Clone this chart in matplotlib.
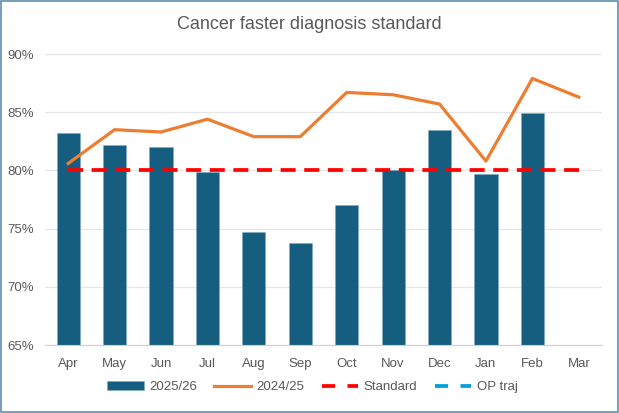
import matplotlib.pyplot as plt
from matplotlib.patches import Rectangle
import numpy as np

months = ["Apr", "May", "Jun", "Jul", "Aug", "Sep", "Oct", "Nov", "Dec", "Jan", "Feb", "Mar"]
fy2526 = [83.2, 82.2, 82.0, 79.9, 74.7, 73.8, 77.0, 80.0, 83.5, 79.7, 84.9]
fy2425 = [80.6, 83.5, 83.3, 84.4, 82.9, 82.9, 86.7, 86.5, 85.7, 80.8, 87.9, 86.3]
standard = [80] * 12
op_traj = []

plt.rcParams["font.family"] = ["Liberation Sans", "DejaVu Sans"]
grey = "#595959"

fig = plt.figure(figsize=(6.19, 4.13), dpi=100)
ax = fig.add_axes([0.0727, 0.1646, 0.8998, 0.7046])

x = np.arange(len(months))
bars = ax.bar(x[:len(fy2526)], fy2526, width=0.5, color="#165E80", edgecolor="#7FA9C0",
              linewidth=0.4, label="2025/26", zorder=2)
l1, = ax.plot(x, fy2425, color="#ED7D31", lw=2.3, label="2024/25", zorder=3)
l2, = ax.plot(x, standard, color="#FF0000", lw=2.7, ls=(0, (4, 2.3)), label="Standard", zorder=4)
l3, = ax.plot(x[:len(op_traj)], op_traj, color="#00A0DC", lw=2.7, ls=(0, (4, 2.3)), label="OP traj", zorder=4)

ax.set_ylim(65, 90)
ax.set_xlim(-0.5, len(months) - 0.5)
ax.set_yticks(np.arange(65, 91, 5))
ax.set_yticklabels([f"{v}%" for v in range(65, 91, 5)])
ax.set_xticks(x)
ax.set_xticklabels(months)
ax.tick_params(axis="both", length=0, colors=grey, labelsize=9.5)
ax.tick_params(axis="x", pad=9)
ax.tick_params(axis="y", pad=8)
ax.grid(axis="y", color="#E6E6E6", lw=0.9, zorder=0)
for s in ["top", "right", "left"]:
    ax.spines[s].set_visible(False)
ax.spines["bottom"].set_color("#D0D0D0")

fig.text(0.5, 0.94, "Cancer faster diagnosis standard", ha="center", va="center",
         fontsize=13, color=grey)

leg = ax.legend([bars, l1, l2, l3], ["2025/26", "2024/25", "Standard", "OP traj"],
                loc="center", bbox_to_anchor=(0.48, -0.145), ncol=4, frameon=False,
                fontsize=9.5, labelcolor=grey, handlelength=2.8, columnspacing=1.3,
                handletextpad=0.4)
for h in leg.legend_handles[2:]:
    h.set_linestyle((0, (3.5, 3.3)))

fig.patches.append(Rectangle((0.002, 0.003), 0.996, 0.994, transform=fig.transFigure,
                             fill=False, edgecolor="#5B8DB0", lw=1.2))

fig.savefig("out.png", dpi=100)
